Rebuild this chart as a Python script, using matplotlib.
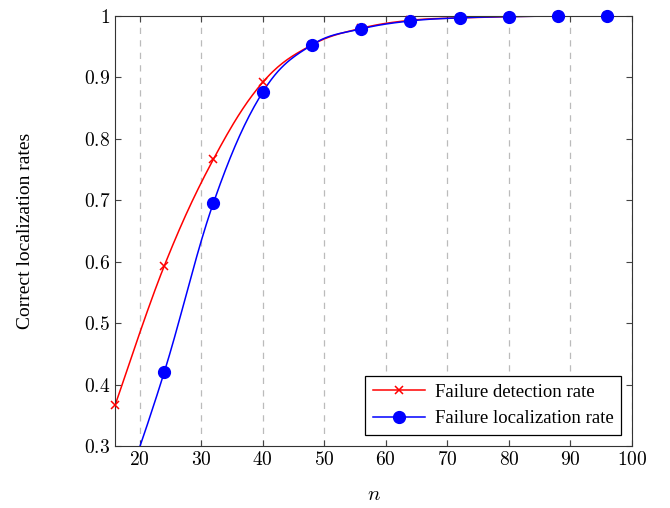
import numpy as np
import matplotlib
matplotlib.use("Agg")
import matplotlib.pyplot as plt

plt.rcParams['font.family'] = ['Liberation Serif', 'DejaVu Serif']
plt.rcParams['mathtext.fontset'] = 'cm'

n = np.array([16, 24, 32, 40, 48, 56, 64, 72, 80, 88, 96, 100])
detection = np.array([0.366, 0.593, 0.767, 0.892, 0.953, 0.980, 0.993, 0.997, 0.999, 1.0, 1.0, 1.0])
localization = np.array([0.180, 0.420, 0.696, 0.876, 0.953, 0.979, 0.992, 0.997, 0.999, 1.0, 1.0, 1.0])

xticks = [20, 30, 40, 50, 60, 70, 80, 90, 100]
yticks = [0.3, 0.4, 0.5, 0.6, 0.7, 0.8, 0.9, 1.0]
ytick_labels = ['0.3', '0.4', '0.5', '0.6', '0.7', '0.8', '0.9', '1']


def smooth(x, y, k=0.18, steps=30):
    # cubic bezier through the points, like pgfplots "smooth"
    xs, ys = [], []
    npts = len(x)
    for i in range(npts - 1):
        p0 = np.array([x[i], y[i]])
        p3 = np.array([x[i + 1], y[i + 1]])
        prev = np.array([x[max(i - 1, 0)], y[max(i - 1, 0)]])
        nxt = np.array([x[min(i + 2, npts - 1)], y[min(i + 2, npts - 1)]])
        p1 = p0 + k * (p3 - prev)
        p2 = p3 - k * (nxt - p0)
        t = np.linspace(0, 1, steps, endpoint=False)[:, None]
        pts = (1 - t)**3 * p0 + 3 * (1 - t)**2 * t * p1 + 3 * (1 - t) * t**2 * p2 + t**3 * p3
        xs.extend(pts[:, 0])
        ys.extend(pts[:, 1])
    xs.append(x[-1])
    ys.append(y[-1])
    return np.array(xs), np.array(ys)


fig = plt.figure(figsize=(6.7, 5.08), dpi=100)
ax = fig.add_axes([0.1716, 0.122, 0.7717, 0.8465])

# marks on every point but the last one (n = 100)
mk = n < 100
red_style = dict(color='red', marker='x', markersize=6, mew=1.1)
blue_style = dict(color='blue', marker='o', markersize=8.5)

sx, sy = smooth(n, detection)
ax.plot(sx, sy, '-', color='red', lw=1.1)
m = mk & (detection >= 0.3)
ax.plot(n[m], detection[m], ls='none', clip_on=False, zorder=3, **red_style)

sx, sy = smooth(n, localization)
ax.plot(sx, sy, '-', color='blue', lw=1.1)
m = mk & (localization >= 0.3)
ax.plot(n[m], localization[m], ls='none', clip_on=False, zorder=4, **blue_style)

# legend entries
ax.plot([], [], '-', lw=1.1, label='Failure detection rate', **red_style)
ax.plot([], [], '-', lw=1.1, label='Failure localization rate', **blue_style)

ax.set_xlim(16, 100)
ax.set_ylim(0.3, 1.0)
ax.set_xticks(xticks)
ax.set_xticklabels(['$%d$' % v for v in xticks])
ax.set_yticks(yticks)
ax.set_yticklabels(['$%s$' % s for s in ytick_labels])
ax.tick_params(direction='in', top=True, right=True, labelsize=14, length=4, color='#444444')
ax.grid(axis='x', color='#bbbbbb', linestyle=(0, (5, 5)), lw=0.9)
for s in ax.spines.values():
    s.set_color('#333333')

ax.set_xlabel('$n$', fontsize=15, labelpad=12)
ax.set_ylabel('Correct localization rates', fontsize=14, labelpad=36)

leg = ax.legend(loc='lower right', fontsize=13.5, fancybox=False, edgecolor='black',
                framealpha=1, handlelength=2.8, borderaxespad=0.6, handletextpad=0.5)
leg.get_frame().set_linewidth(0.9)

plt.savefig("out.png")
